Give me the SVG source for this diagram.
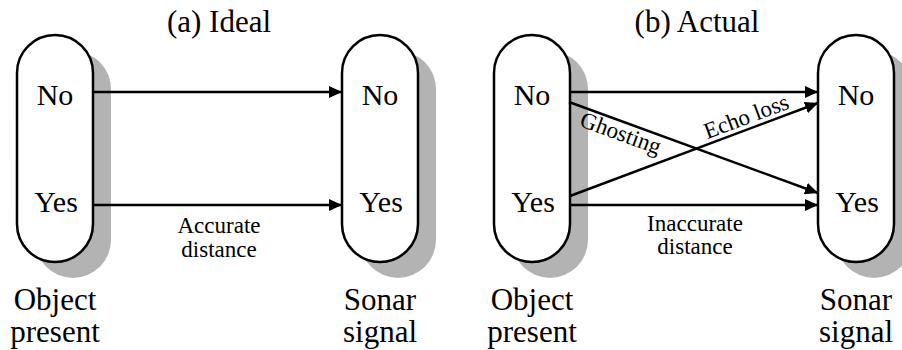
<svg xmlns="http://www.w3.org/2000/svg" width="902" height="350" viewBox="0 0 902 350" font-family="'Liberation Serif', 'DejaVu Serif', serif">
<style>
text{font-family:'Liberation Serif','DejaVu Serif',serif;fill:#000;text-anchor:middle}
.t{font-size:31px}
.n{font-size:30px}
.e{font-size:23px}
.pill{fill:#fff;stroke:#000;stroke-width:2.5}
.sh{fill:#b3b3b3}
.c{stroke:#000;stroke-width:2.5;fill:none;marker-end:url(#ah)}
</style>
<defs>
<marker id="ah" markerUnits="userSpaceOnUse" markerWidth="14" markerHeight="12" refX="13" refY="6" orient="auto">
<path d="M0,0 L13,6 L0,12 Z" fill="#000"/>
</marker>
</defs>
<rect width="902" height="350" fill="#fff"/>
<text class="t" x="219" y="32">(a) Ideal</text>
<text class="t" x="697" y="32">(b) Actual</text>

<g id="a-object">
<rect class="sh" x="35" y="51" width="76" height="227" rx="38"/>
<rect class="pill" x="17" y="35" width="76" height="227" rx="38"/>
<text class="n" x="55" y="105">No</text>
<text class="n" x="56" y="212">Yes</text>
<text class="t" x="55" y="310">Object</text>
<text class="t" x="55" y="342">present</text>
</g>
<g id="a-sonar">
<rect class="sh" x="360" y="51" width="76" height="227" rx="38"/>
<rect class="pill" x="342" y="35" width="76" height="227" rx="38"/>
<text class="n" x="380" y="105">No</text>
<text class="n" x="381" y="212">Yes</text>
<text class="t" x="380" y="310">Sonar</text>
<text class="t" x="380" y="342">signal</text>
</g>
<g id="b-object">
<rect class="sh" x="512" y="51" width="76" height="227" rx="38"/>
<rect class="pill" x="494" y="35" width="76" height="227" rx="38"/>
<text class="n" x="532" y="105">No</text>
<text class="n" x="533" y="212">Yes</text>
<text class="t" x="532" y="310">Object</text>
<text class="t" x="532" y="342">present</text>
</g>
<g id="b-sonar">
<rect class="sh" x="836" y="51" width="76" height="227" rx="38"/>
<rect class="pill" x="818" y="35" width="76" height="227" rx="38"/>
<text class="n" x="856" y="105">No</text>
<text class="n" x="857" y="212">Yes</text>
<text class="t" x="856" y="310">Sonar</text>
<text class="t" x="856" y="342">signal</text>
</g>

<g id="connectors">
<line class="c" x1="93" y1="92" x2="342" y2="92"/>
<line class="c" x1="93" y1="205" x2="342" y2="205"/>
<line class="c" x1="570" y1="92" x2="818" y2="92"/>
<line class="c" x1="570" y1="205" x2="818" y2="205"/>
<line class="c" x1="569" y1="102" x2="818" y2="193"/>
<line class="c" x1="570" y1="196" x2="818" y2="103"/>
<text class="e" x="219" y="233">Accurate</text>
<text class="e" x="219" y="257">distance</text>
<text class="e" x="695" y="231">Inaccurate</text>
<text class="e" x="695" y="254">distance</text>
<text class="e" transform="translate(624.7,122.4) rotate(20.1)" x="0" y="19">Ghosting</text>
<text class="e" transform="translate(750.6,128.3) rotate(-20.6)" x="0" y="-5">Echo loss</text>
</g>
</svg>
